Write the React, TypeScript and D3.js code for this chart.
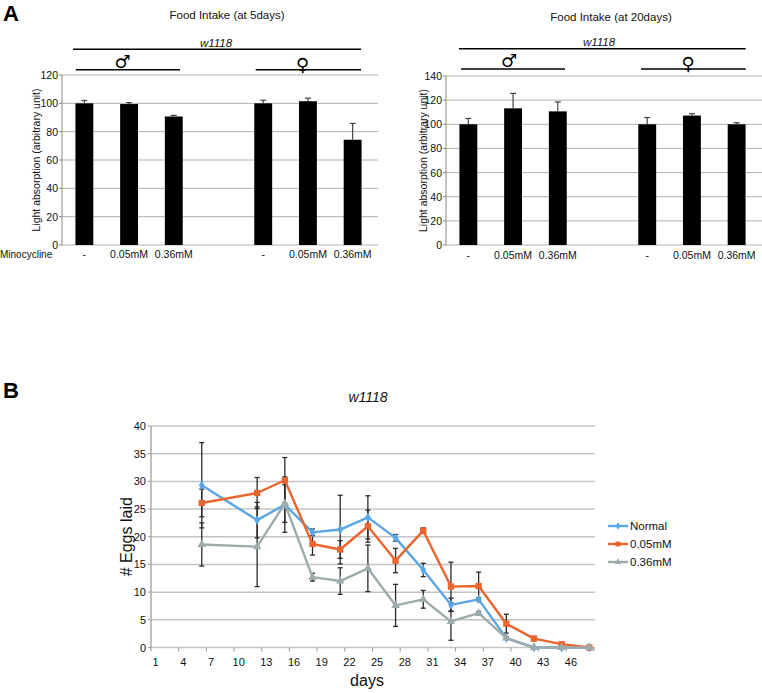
import React from "react";
import * as d3 from "d3";

// ---------- Data: Panel A ----------
const barCategories = ["-", "0.05mM", "0.36mM", "", "-", "0.05mM", "0.36mM"];
const barSlots = [0, 1, 2, 4, 5, 6];
const food5 = [100, 99.5, 90.7, 100, 101.5, 74.3];
const food5Err = [2.0, 1.0, 0.8, 2.2, 2.2, 11.5];
const food20 = [100, 113.2, 110.7, 100, 107.2, 100];
const food20Err = [4.8, 12.4, 7.8, 5.6, 1.5, 1.3];
const ticks5 = [0, 20, 40, 60, 80, 100, 120];
const ticks20 = [0, 20, 40, 60, 80, 100, 120, 140];

// ---------- Data: Panel B ----------
const dayCount = 48;
const dayLabels = [1, 4, 7, 10, 13, 16, 19, 22, 25, 28, 31, 34, 37, 40, 43, 46];
const days = [6, 12, 15, 18, 21, 24, 27, 30, 33, 36, 39, 42, 45, 48];
const normal = [29.3, 23.0, 25.8, 20.8, 21.3, 23.5, 19.8, 14.0, 7.7, 8.7, 1.7, 0, 0, 0];
const normalErr = [7.7, 3.2, 5.0, 0.6, 6.2, 3.9, 0.6, 1.2, 1.2, 0.3, 0.2, 0, 0, 0];
const mm005 = [26.1, 27.9, 30.2, 18.7, 17.7, 21.9, 15.7, 21.1, 11.0, 11.1, 4.3, 1.6, 0.6, 0];
const mm005Err = [2.5, 2.8, 4.1, 2.0, 1.6, 2.9, 2.2, 0.5, 4.4, 2.5, 1.7, 0.4, 0.1, 0];
const mm036 = [18.6, 18.2, 26.0, 12.7, 12.0, 14.3, 7.6, 8.7, 4.7, 6.2, 1.7, 0, 0, 0];
const mm036Err = [3.9, 7.2, 3.4, 0.7, 2.4, 4.2, 3.8, 1.6, 3.4, 0.3, 0.2, 0, 0, 0];
const eggTicks = [0, 5, 10, 15, 20, 25, 30, 35, 40];

const FONT = "'Liberation Sans', Arial, sans-serif";

type BarProps = {
  x0: number; x1: number; gridRight: number; yTop: number; yBottom: number; yMax: number;
  ticks: number[]; values: number[]; errs: number[];
  title: string; titleX: number; titleY: number;
  strainX: number; strainY: number; lineY: number; lineX: [number, number];
  maleX: number; maleLine: [number, number]; femaleX: number; femaleLine: [number, number]; subLineY: number;
  yLabelX: number; showMino: boolean; catY: number;
};

function BarPanel(p: BarProps) {
  const x = d3.scaleBand<number>().domain(d3.range(barCategories.length)).range([p.x0, p.x1]).paddingInner(0.6).paddingOuter(0.3);
  const y = d3.scaleLinear().domain([0, p.yMax]).range([p.yBottom, p.yTop]);
  const bw = x.bandwidth();
  return (
    <g fontFamily={FONT}>
      <text x={p.titleX} y={p.titleY} fontSize={11.5} textAnchor="middle" fill="#111">{p.title}</text>
      <text x={p.strainX} y={p.strainY} fontSize={11.5} fontStyle="italic" textAnchor="middle" fill="#111">w1118</text>
      <line x1={p.lineX[0]} x2={p.lineX[1]} y1={p.lineY} y2={p.lineY} stroke="#000" strokeWidth={1.6} />
      <text x={p.maleX} y={p.subLineY - 2} fontSize={18} textAnchor="middle" fontFamily="'DejaVu Sans'" fill="#000">♂</text>
      <line x1={p.maleLine[0]} x2={p.maleLine[1]} y1={p.subLineY} y2={p.subLineY} stroke="#000" strokeWidth={1.6} />
      <text x={p.femaleX} y={p.subLineY + 1} fontSize={18} textAnchor="middle" fontFamily="'DejaVu Sans'" fill="#000">♀</text>
      <line x1={p.femaleLine[0]} x2={p.femaleLine[1]} y1={p.subLineY} y2={p.subLineY} stroke="#000" strokeWidth={1.6} />
      {p.ticks.map((t) => (
        <g key={t}>
          <line x1={p.x0} x2={p.gridRight} y1={y(t)} y2={y(t)} stroke="#aab4ba" strokeWidth={1} />
          <line x1={p.x0 - 3} x2={p.x0} y1={y(t)} y2={y(t)} stroke="#888" strokeWidth={1} />
          <text x={p.x0 - 4} y={y(t) + 4} fontSize={10.5} textAnchor="end" fill="#111">{t}</text>
        </g>
      ))}
      <line x1={p.x0} x2={p.x0} y1={p.yTop} y2={p.yBottom} stroke="#888" strokeWidth={1} />
      <text transform={`translate(${p.yLabelX},${(p.yTop + p.yBottom) / 2}) rotate(-90)`} fontSize={10.5} textAnchor="middle" fill="#111">
        Light absorption (arbitrary unit)
      </text>
      {p.values.map((v, i) => {
        const slot = barSlots[i];
        const cx = (x(slot) as number) + bw / 2;
        const top = y(v + p.errs[i]);
        return (
          <g key={i}>
            <rect x={x(slot)} y={y(v)} width={bw} height={p.yBottom - y(v)} fill="#000" />
            <line x1={cx} x2={cx} y1={y(v)} y2={top} stroke="#444" strokeWidth={1.2} />
            <line x1={cx - 3} x2={cx + 3} y1={top} y2={top} stroke="#444" strokeWidth={1.2} />
          </g>
        );
      })}
      {barCategories.map((c, i) => (
        <text key={i} x={(x(i) as number) + bw / 2} y={p.catY} fontSize={10.5} textAnchor="middle" fill="#111">{c}</text>
      ))}
      {p.showMino && <text x={0} y={p.catY} fontSize={10} fill="#111">Minocycline</text>}
    </g>
  );
}

function EggPanel() {
  const x0 = 151, x1 = 594, yTop = 426, yBottom = 647.5;
  const x = d3.scaleBand<number>().domain(d3.range(1, dayCount + 1)).range([x0, x1]);
  const cx = (d: number) => (x(d) as number) + x.bandwidth() / 2;
  const y = d3.scaleLinear().domain([0, 40]).range([yBottom, yTop]);
  const series = [
    { name: "Normal", vals: normal, errs: normalErr, color: "#5aa5e3", sym: d3.symbolDiamond, size: 28 },
    { name: "0.05mM", vals: mm005, errs: mm005Err, color: "#e8652f", sym: d3.symbolSquare, size: 40 },
    { name: "0.36mM", vals: mm036, errs: mm036Err, color: "#9eabad", sym: d3.symbolTriangle, size: 32 },
  ];
  const line = d3.line<number>().x((_, i) => cx(days[i])).y((v) => y(v));
  const tickBounds = d3.range(0, dayCount + 1, 3).map((k) => x0 + k * x.step());
  return (
    <g fontFamily={FONT}>
      <text x={3} y={398} fontSize={22} fontWeight="bold" fill="#000">B</text>
      <text x={368} y={402} fontSize={14} fontStyle="italic" textAnchor="middle" fill="#111">w1118</text>
      {eggTicks.map((t) => (
        <g key={t}>
          <line x1={x0} x2={x1 + 1} y1={y(t)} y2={y(t)} stroke="#c4c4c4" strokeWidth={1.5} />
          <line x1={x0 - 3} x2={x0} y1={y(t)} y2={y(t)} stroke="#999" strokeWidth={1} />
          <text x={x0 - 5} y={y(t) + 4} fontSize={11} textAnchor="end" fill="#111">{t}</text>
        </g>
      ))}
      <line x1={x0} x2={x0} y1={yTop} y2={yBottom} stroke="#aaa" strokeWidth={1.5} />
      {tickBounds.map((tx, i) => (
        <line key={i} x1={tx} x2={tx} y1={yBottom} y2={yBottom + 4} stroke="#999" strokeWidth={1} />
      ))}
      {dayLabels.map((d) => (
        <text key={d} x={cx(d)} y={666} fontSize={11} textAnchor="middle" fill="#111">{d}</text>
      ))}
      <text x={367} y={686} fontSize={16} textAnchor="middle" fill="#111">days</text>
      <text transform={`translate(132,${(yTop + yBottom) / 2}) rotate(-90)`} fontSize={16} textAnchor="middle" fill="#111"># Eggs laid</text>
      {series.map((s) => (
        <g key={s.name + "e"}>
          {s.vals.map((v, i) =>
            s.errs[i] > 0 ? (
              <g key={i} stroke="#2a2a2a" strokeWidth={1.3}>
                <line x1={cx(days[i])} x2={cx(days[i])} y1={y(v - s.errs[i])} y2={y(v + s.errs[i])} />
                <line x1={cx(days[i]) - 2.5} x2={cx(days[i]) + 2.5} y1={y(v - s.errs[i])} y2={y(v - s.errs[i])} />
                <line x1={cx(days[i]) - 2.5} x2={cx(days[i]) + 2.5} y1={y(v + s.errs[i])} y2={y(v + s.errs[i])} />
              </g>
            ) : null
          )}
        </g>
      ))}
      {series.map((s) => (
        <g key={s.name}>
          <path d={line(s.vals) as string} fill="none" stroke={s.color} strokeWidth={2.4} strokeLinejoin="round" />
          {s.vals.map((v, i) => (
            <path key={i} d={d3.symbol(s.sym, s.size)() as string} transform={`translate(${cx(days[i])},${y(v)})`} fill={s.color} />
          ))}
        </g>
      ))}
      {series.map((s, i) => {
        const ly = 526 + i * 18;
        return (
          <g key={s.name + "l"}>
            <line x1={608} x2={628} y1={ly} y2={ly} stroke={s.color} strokeWidth={2.4} />
            <path d={d3.symbol(s.sym, s.size * 0.6)() as string} transform={`translate(618,${ly})`} fill={s.color} />
            <text x={630} y={ly + 4} fontSize={11.5} fill="#111">{s.name}</text>
          </g>
        );
      })}
    </g>
  );
}

export default function App() {
  return (
    <svg width={762} height={693} style={{ position: "absolute", left: 0, top: 0, background: "#fff" }}>
      <text x={3} y={21} fontSize={22} fontWeight="bold" fontFamily={FONT} fill="#000">A</text>
      <BarPanel
        x0={62} x1={375} gridRight={378} yTop={75} yBottom={245} yMax={120}
        ticks={ticks5} values={food5} errs={food5Err}
        title="Food Intake (at 5days)" titleX={227} titleY={19}
        strainX={216} strainY={46.5} lineY={49.3} lineX={[73, 361]}
        maleX={122.5} maleLine={[75.7, 180]} femaleX={302.5} femaleLine={[255.7, 361]} subLineY={69.7}
        yLabelX={40} showMino={true} catY={258}
      />
      <BarPanel
        x0={446} x1={759} gridRight={762} yTop={76} yBottom={245} yMax={140}
        ticks={ticks20} values={food20} errs={food20Err}
        title="Food Intake (at 20days)" titleX={611} titleY={21}
        strainX={599} strainY={46} lineY={48.7} lineX={[459, 745.7]}
        maleX={509} maleLine={[461, 565]} femaleX={688} femaleLine={[641, 745.7]} subLineY={69}
        yLabelX={427} showMino={false} catY={259}
      />
      <EggPanel />
    </svg>
  );
}
